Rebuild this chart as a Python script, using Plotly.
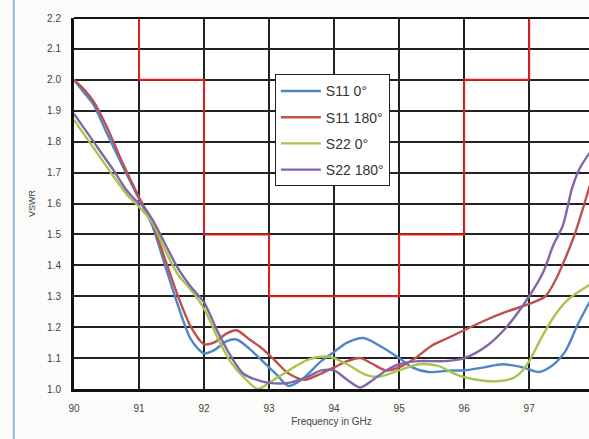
import plotly.graph_objects as go

# ---- data ----
s11_0_f = [90.0, 90.15, 90.3, 90.5, 90.75, 91.0, 91.2, 91.4, 91.6, 91.8, 92.0, 92.15, 92.35, 92.5, 92.7, 92.9,
           93.1, 93.3, 93.5, 93.8, 94.0, 94.2, 94.45, 94.7, 95.0, 95.2, 95.45, 95.8, 96.0, 96.3, 96.6, 96.9,
           97.15, 97.35, 97.55, 97.75, 97.95]
s11_0_v = [2.00, 1.96, 1.92, 1.83, 1.72, 1.615, 1.53, 1.40, 1.27, 1.16, 1.115, 1.125, 1.155, 1.16, 1.13, 1.09,
           1.05, 1.01, 1.03, 1.09, 1.12, 1.15, 1.165, 1.14, 1.10, 1.07, 1.055, 1.06, 1.06, 1.07, 1.08, 1.07,
           1.055, 1.075, 1.12, 1.21, 1.29]

s11_180_f = [90.0, 90.15, 90.3, 90.5, 90.75, 91.0, 91.2, 91.4, 91.6, 91.8, 92.0, 92.15, 92.35, 92.5, 92.7, 92.9,
             93.1, 93.3, 93.55, 93.8, 94.0, 94.2, 94.4, 94.6, 94.8, 95.0, 95.25, 95.5, 95.75, 96.0, 96.3, 96.65,
             97.0, 97.25, 97.4, 97.55, 97.7, 97.85, 97.95]
s11_180_v = [2.00, 1.97, 1.93, 1.85, 1.73, 1.62, 1.54, 1.42, 1.30, 1.20, 1.145, 1.15, 1.18, 1.19, 1.16, 1.13,
             1.09, 1.05, 1.03, 1.05, 1.07, 1.09, 1.10, 1.08, 1.06, 1.07, 1.10, 1.14, 1.165, 1.19, 1.22, 1.25,
             1.275, 1.30, 1.35, 1.42, 1.50, 1.60, 1.67]

s22_0_f = [90.0, 90.2, 90.4, 90.6, 90.85, 91.0, 91.2, 91.4, 91.6, 91.8, 92.0, 92.2, 92.4, 92.6, 92.83, 93.0,
           93.3, 93.6, 93.85, 94.0, 94.2, 94.5, 94.7, 95.0, 95.3, 95.6, 95.9, 96.2, 96.5, 96.75, 96.9, 97.0,
           97.2, 97.4, 97.6, 97.95]
s22_0_v = [1.87, 1.81, 1.75, 1.69, 1.62, 1.59, 1.54, 1.45, 1.37, 1.32, 1.26, 1.17, 1.09, 1.04, 1.00, 1.02,
           1.06, 1.095, 1.105, 1.10, 1.08, 1.045, 1.04, 1.06, 1.08, 1.075, 1.045, 1.03, 1.025, 1.035, 1.06, 1.09,
           1.17, 1.24, 1.29, 1.34]

s22_180_f = [90.0, 90.2, 90.4, 90.6, 90.8, 90.95, 91.05, 91.2, 91.4, 91.6, 91.8, 92.0, 92.2, 92.4, 92.6, 92.8,
             93.0, 93.3, 93.6, 93.8, 94.0, 94.2, 94.4, 94.6, 94.8, 95.0, 95.3, 95.7, 96.0, 96.35, 96.65, 97.0,
             97.22, 97.37, 97.52, 97.66, 97.78, 97.95]
s22_180_v = [1.89, 1.83, 1.77, 1.71, 1.645, 1.61, 1.595, 1.55, 1.47, 1.39, 1.33, 1.28, 1.19, 1.11, 1.05, 1.03,
             1.02, 1.02, 1.04, 1.06, 1.06, 1.03, 1.005, 1.03, 1.06, 1.08, 1.09, 1.09, 1.10, 1.14, 1.20, 1.30,
             1.38, 1.465, 1.53, 1.65, 1.715, 1.77]

mask_f = [91, 91, 92, 92, 93, 93, 95, 95, 96, 96, 97, 97]
mask_v = [2.2, 2.0, 2.0, 1.5, 1.5, 1.3, 1.3, 1.5, 1.5, 2.0, 2.0, 2.2]

x_ticks = [90, 91, 92, 93, 94, 95, 96, 97, 98]
y_ticks = [1.0, 1.1, 1.2, 1.3, 1.4, 1.5, 1.6, 1.7, 1.8, 1.9, 2.0, 2.1, 2.2]

series = [
    ("S11 0°", s11_0_f, s11_0_v, "#4f86c6"),
    ("S11 180°", s11_180_f, s11_180_v, "#c0504d"),
    ("S22 0°", s22_0_f, s22_0_v, "#a8c34f"),
    ("S22 180°", s22_180_f, s22_180_v, "#8366a8"),
]

fig = go.Figure()
fig.add_trace(go.Scatter(x=mask_f, y=mask_v, mode="lines", line=dict(color="#e0201c", width=2),
                         showlegend=False, hoverinfo="skip"))
for i, (name, f, v, c) in enumerate(series):
    fig.add_trace(go.Scatter(x=f, y=v, mode="lines", name=name, legendgroup=name,
                             line=dict(color=c, width=2.4, shape="spline", smoothing=0.8)))

fig.add_shape(type="line", xref="paper", yref="paper", x0=-0.117, x1=-0.117, y0=-0.2, y1=1.06,
              line=dict(color="#8db6e2", width=2))

fig.update_layout(
    width=589, height=439,
    margin=dict(l=74, r=0, t=18, b=50),
    paper_bgcolor="#fbfbfa", plot_bgcolor="#ffffff",
    font=dict(family="Liberation Sans, Arial, sans-serif", color="#333333"),
    showlegend=True,
    legend=dict(x=0.39, y=0.848, xanchor="left", yanchor="top",
                bgcolor="#ffffff", bordercolor="#222222", borderwidth=1,
                font=dict(size=14, color="#333333"), tracegroupgap=5, itemwidth=40),
    xaxis=dict(range=[90, 97.92], tickvals=x_ticks, ticktext=[str(t) for t in x_ticks],
               showgrid=True, gridcolor="#222222", gridwidth=1.5, zeroline=False,
               showline=True, linecolor="#111111", linewidth=3, mirror=False,
               tickfont=dict(size=10, color="#444444"), ticks="", ticklabelstandoff=8,
               title=dict(text="Frequency in GHz", font=dict(size=10, color="#444444"), standoff=5)),
    yaxis=dict(range=[1.0, 2.2], tickvals=y_ticks, ticktext=[f"{t:.1f}" for t in y_ticks],
               showgrid=True, gridcolor="#222222", gridwidth=1.5, zeroline=False,
               showline=True, linecolor="#111111", linewidth=3, mirror=False,
               tickfont=dict(size=10, color="#444444"), ticks="", ticklabelstandoff=8,
               title=dict(text="VSWR", font=dict(size=9, color="#444444"), standoff=10)),
)
fig.add_shape(type="line", xref="paper", yref="paper", x0=0, x1=1, y0=1, y1=1,
              line=dict(color="#111111", width=2))

fig.write_html("out.html", config={"displayModeBar": False},
               post_script="document.body.style.margin='0';document.body.style.overflow='hidden';")
